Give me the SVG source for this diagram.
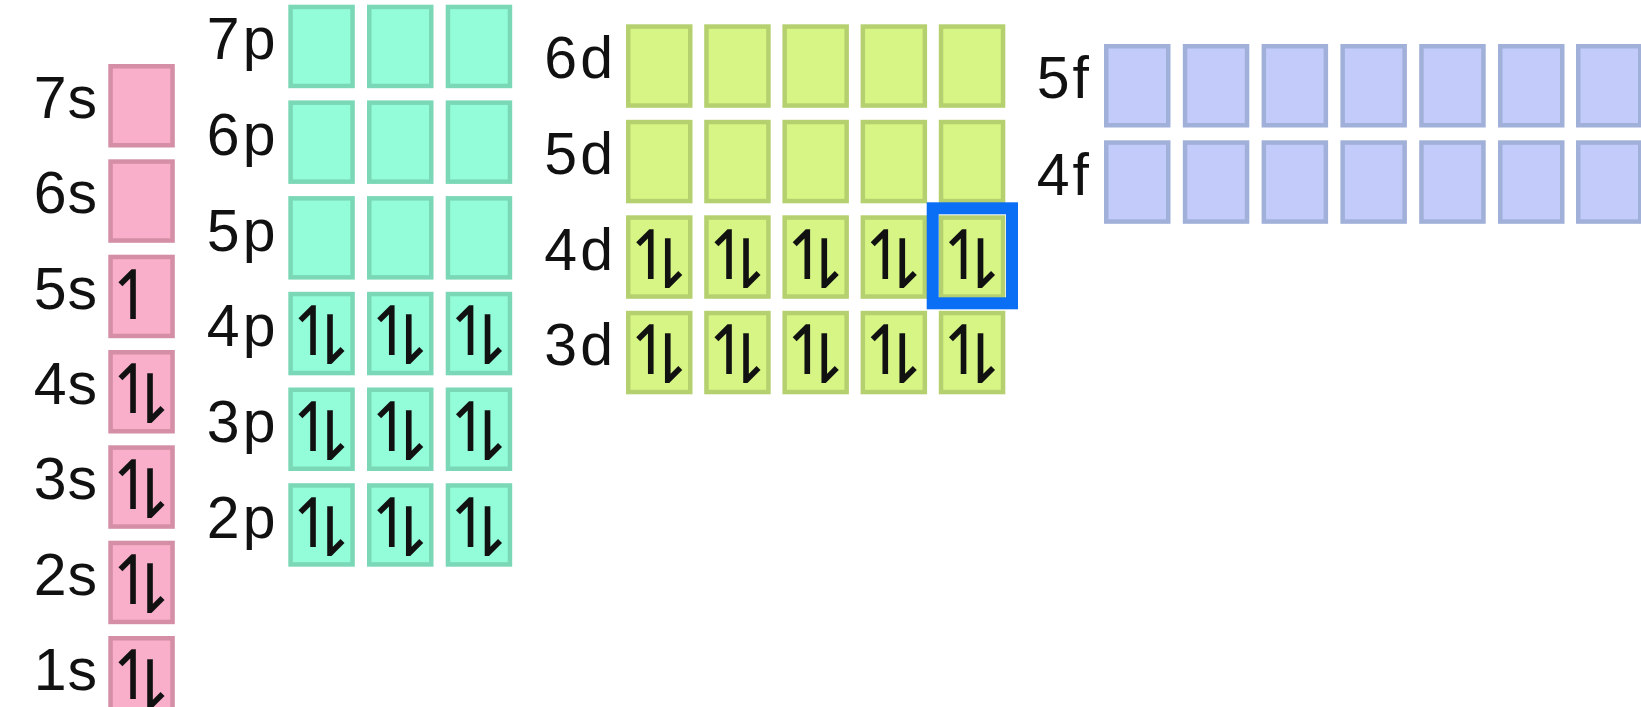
<svg xmlns="http://www.w3.org/2000/svg" width="1641" height="707" viewBox="0 0 1641 707">
<style>
.bg{fill:#ffffff}
.lbl{font-family:"Liberation Sans",Arial,sans-serif;font-size:59px;fill:#111111;text-anchor:end;letter-spacing:3px}
.s .lbl{letter-spacing:1px}
.e{font-family:"DejaVu Sans",sans-serif;font-size:68px;fill:#111111;text-anchor:middle}
.s rect.b{fill:#f9afc9;stroke:#d48ea6;stroke-width:4.5}
.p rect.b{fill:#93fdd9;stroke:#7ad8b6;stroke-width:4.5}
.d rect.b{fill:#d6f585;stroke:#b5d06f;stroke-width:4.5}
.f rect.b{fill:#c3cbfb;stroke:#a0b0d9;stroke-width:4.5}
.hl{fill:none;stroke:#0b6ff5;stroke-width:12}
</style>
<rect class="bg" x="0" y="0" width="1641" height="707"/>

<!-- s subshells -->
<g id="s-orbitals" class="s">
 <g id="orb-7s"><text class="lbl" x="98" y="118">7s</text><g id="7s-1" transform="translate(108.3,64)"><rect class="b" x="2.25" y="2.25" width="62" height="79"/></g></g>
 <g id="orb-6s"><text class="lbl" x="98" y="213.3">6s</text><g id="6s-1" transform="translate(108.3,159.3)"><rect class="b" x="2.25" y="2.25" width="62" height="79"/></g></g>
 <g id="orb-5s"><text class="lbl" x="98" y="308.7">5s</text><g id="5s-1" transform="translate(108.3,254.7)"><rect class="b" x="2.25" y="2.25" width="62" height="79"/><text class="e" x="25" y="64">↿</text></g></g>
 <g id="orb-4s"><text class="lbl" x="98" y="404">4s</text><g id="4s-1" transform="translate(108.3,350)"><rect class="b" x="2.25" y="2.25" width="62" height="79"/><text class="e" x="25" y="63.4">↿</text><text class="e" x="42" y="72.7">⇂</text></g></g>
 <g id="orb-3s"><text class="lbl" x="98" y="499.3">3s</text><g id="3s-1" transform="translate(108.3,445.3)"><rect class="b" x="2.25" y="2.25" width="62" height="79"/><text class="e" x="25" y="63.4">↿</text><text class="e" x="42" y="72.7">⇂</text></g></g>
 <g id="orb-2s"><text class="lbl" x="98" y="594.7">2s</text><g id="2s-1" transform="translate(108.3,540.7)"><rect class="b" x="2.25" y="2.25" width="62" height="79"/><text class="e" x="25" y="63.4">↿</text><text class="e" x="42" y="72.7">⇂</text></g></g>
 <g id="orb-1s"><text class="lbl" x="98" y="689.5">1s</text><g id="1s-1" transform="translate(108.3,636)"><rect class="b" x="2.25" y="2.25" width="62" height="79"/><text class="e" x="25" y="63.4">↿</text><text class="e" x="42" y="72.7">⇂</text></g></g>
</g>

<!-- p subshells -->
<g id="p-orbitals" class="p">
 <g id="orb-7p"><text class="lbl" x="278.5" y="59">7p</text>
  <g id="7p-1" transform="translate(288.3,4.7)"><rect class="b" x="2.25" y="2.25" width="62" height="79"/></g>
  <g id="7p-2" transform="translate(367,4.7)"><rect class="b" x="2.25" y="2.25" width="62" height="79"/></g>
  <g id="7p-3" transform="translate(445.7,4.7)"><rect class="b" x="2.25" y="2.25" width="62" height="79"/></g>
 </g>
 <g id="orb-6p"><text class="lbl" x="278.5" y="155">6p</text>
  <g id="6p-1" transform="translate(288.3,100.4)"><rect class="b" x="2.25" y="2.25" width="62" height="79"/></g>
  <g id="6p-2" transform="translate(367,100.4)"><rect class="b" x="2.25" y="2.25" width="62" height="79"/></g>
  <g id="6p-3" transform="translate(445.7,100.4)"><rect class="b" x="2.25" y="2.25" width="62" height="79"/></g>
 </g>
 <g id="orb-5p"><text class="lbl" x="278.5" y="250.6">5p</text>
  <g id="5p-1" transform="translate(288.3,196.1)"><rect class="b" x="2.25" y="2.25" width="62" height="79"/></g>
  <g id="5p-2" transform="translate(367,196.1)"><rect class="b" x="2.25" y="2.25" width="62" height="79"/></g>
  <g id="5p-3" transform="translate(445.7,196.1)"><rect class="b" x="2.25" y="2.25" width="62" height="79"/></g>
 </g>
 <g id="orb-4p"><text class="lbl" x="278.5" y="346.2">4p</text>
  <g id="4p-1" transform="translate(288.3,291.8)"><rect class="b" x="2.25" y="2.25" width="62" height="79"/><text class="e" x="25" y="63.4">↿</text><text class="e" x="42" y="72.7">⇂</text></g>
  <g id="4p-2" transform="translate(367,291.8)"><rect class="b" x="2.25" y="2.25" width="62" height="79"/><text class="e" x="25" y="63.4">↿</text><text class="e" x="42" y="72.7">⇂</text></g>
  <g id="4p-3" transform="translate(445.7,291.8)"><rect class="b" x="2.25" y="2.25" width="62" height="79"/><text class="e" x="25" y="63.4">↿</text><text class="e" x="42" y="72.7">⇂</text></g>
 </g>
 <g id="orb-3p"><text class="lbl" x="278.5" y="441.8">3p</text>
  <g id="3p-1" transform="translate(288.3,387.5)"><rect class="b" x="2.25" y="2.25" width="62" height="79"/><text class="e" x="25" y="63.4">↿</text><text class="e" x="42" y="72.7">⇂</text></g>
  <g id="3p-2" transform="translate(367,387.5)"><rect class="b" x="2.25" y="2.25" width="62" height="79"/><text class="e" x="25" y="63.4">↿</text><text class="e" x="42" y="72.7">⇂</text></g>
  <g id="3p-3" transform="translate(445.7,387.5)"><rect class="b" x="2.25" y="2.25" width="62" height="79"/><text class="e" x="25" y="63.4">↿</text><text class="e" x="42" y="72.7">⇂</text></g>
 </g>
 <g id="orb-2p"><text class="lbl" x="278.5" y="537.5">2p</text>
  <g id="2p-1" transform="translate(288.3,483.2)"><rect class="b" x="2.25" y="2.25" width="62" height="79"/><text class="e" x="25" y="63.4">↿</text><text class="e" x="42" y="72.7">⇂</text></g>
  <g id="2p-2" transform="translate(367,483.2)"><rect class="b" x="2.25" y="2.25" width="62" height="79"/><text class="e" x="25" y="63.4">↿</text><text class="e" x="42" y="72.7">⇂</text></g>
  <g id="2p-3" transform="translate(445.7,483.2)"><rect class="b" x="2.25" y="2.25" width="62" height="79"/><text class="e" x="25" y="63.4">↿</text><text class="e" x="42" y="72.7">⇂</text></g>
 </g>
</g>

<!-- d subshells -->
<g id="d-orbitals" class="d">
 <g id="orb-6d"><text class="lbl" x="616" y="78.4">6d</text>
  <g id="6d-1" transform="translate(626,24.3)"><rect class="b" x="2.25" y="2.25" width="62" height="79"/></g>
  <g id="6d-2" transform="translate(704.2,24.3)"><rect class="b" x="2.25" y="2.25" width="62" height="79"/></g>
  <g id="6d-3" transform="translate(782.4,24.3)"><rect class="b" x="2.25" y="2.25" width="62" height="79"/></g>
  <g id="6d-4" transform="translate(860.6,24.3)"><rect class="b" x="2.25" y="2.25" width="62" height="79"/></g>
  <g id="6d-5" transform="translate(938.8,24.3)"><rect class="b" x="2.25" y="2.25" width="62" height="79"/></g>
 </g>
 <g id="orb-5d"><text class="lbl" x="616" y="174">5d</text>
  <g id="5d-1" transform="translate(626,119.8)"><rect class="b" x="2.25" y="2.25" width="62" height="79"/></g>
  <g id="5d-2" transform="translate(704.2,119.8)"><rect class="b" x="2.25" y="2.25" width="62" height="79"/></g>
  <g id="5d-3" transform="translate(782.4,119.8)"><rect class="b" x="2.25" y="2.25" width="62" height="79"/></g>
  <g id="5d-4" transform="translate(860.6,119.8)"><rect class="b" x="2.25" y="2.25" width="62" height="79"/></g>
  <g id="5d-5" transform="translate(938.8,119.8)"><rect class="b" x="2.25" y="2.25" width="62" height="79"/></g>
 </g>
 <g id="orb-4d"><text class="lbl" x="616" y="269.5">4d</text>
  <g id="4d-1" transform="translate(626,215.3)"><rect class="b" x="2.25" y="2.25" width="62" height="79"/><text class="e" x="25" y="63.4">↿</text><text class="e" x="42" y="72.7">⇂</text></g>
  <g id="4d-2" transform="translate(704.2,215.3)"><rect class="b" x="2.25" y="2.25" width="62" height="79"/><text class="e" x="25" y="63.4">↿</text><text class="e" x="42" y="72.7">⇂</text></g>
  <g id="4d-3" transform="translate(782.4,215.3)"><rect class="b" x="2.25" y="2.25" width="62" height="79"/><text class="e" x="25" y="63.4">↿</text><text class="e" x="42" y="72.7">⇂</text></g>
  <g id="4d-4" transform="translate(860.6,215.3)"><rect class="b" x="2.25" y="2.25" width="62" height="79"/><text class="e" x="25" y="63.4">↿</text><text class="e" x="42" y="72.7">⇂</text></g>
  <g id="4d-5" transform="translate(938.8,215.3)"><rect class="b" x="2.25" y="2.25" width="62" height="79"/><text class="e" x="25" y="63.4">↿</text><text class="e" x="42" y="72.7">⇂</text></g>
 </g>
 <g id="orb-3d"><text class="lbl" x="616" y="365">3d</text>
  <g id="3d-1" transform="translate(626,310.8)"><rect class="b" x="2.25" y="2.25" width="62" height="79"/><text class="e" x="25" y="63.4">↿</text><text class="e" x="42" y="72.7">⇂</text></g>
  <g id="3d-2" transform="translate(704.2,310.8)"><rect class="b" x="2.25" y="2.25" width="62" height="79"/><text class="e" x="25" y="63.4">↿</text><text class="e" x="42" y="72.7">⇂</text></g>
  <g id="3d-3" transform="translate(782.4,310.8)"><rect class="b" x="2.25" y="2.25" width="62" height="79"/><text class="e" x="25" y="63.4">↿</text><text class="e" x="42" y="72.7">⇂</text></g>
  <g id="3d-4" transform="translate(860.6,310.8)"><rect class="b" x="2.25" y="2.25" width="62" height="79"/><text class="e" x="25" y="63.4">↿</text><text class="e" x="42" y="72.7">⇂</text></g>
  <g id="3d-5" transform="translate(938.8,310.8)"><rect class="b" x="2.25" y="2.25" width="62" height="79"/><text class="e" x="25" y="63.4">↿</text><text class="e" x="42" y="72.7">⇂</text></g>
 </g>
</g>

<!-- f subshells -->
<g id="f-orbitals" class="f">
 <g id="orb-5f"><text class="lbl" x="1092" y="98.3">5f</text>
  <g id="5f-1" transform="translate(1104,44)"><rect class="b" x="2.25" y="2.25" width="62" height="79"/></g>
  <g id="5f-2" transform="translate(1182.8,44)"><rect class="b" x="2.25" y="2.25" width="62" height="79"/></g>
  <g id="5f-3" transform="translate(1261.6,44)"><rect class="b" x="2.25" y="2.25" width="62" height="79"/></g>
  <g id="5f-4" transform="translate(1340.4,44)"><rect class="b" x="2.25" y="2.25" width="62" height="79"/></g>
  <g id="5f-5" transform="translate(1419.2,44)"><rect class="b" x="2.25" y="2.25" width="62" height="79"/></g>
  <g id="5f-6" transform="translate(1498,44)"><rect class="b" x="2.25" y="2.25" width="62" height="79"/></g>
  <g id="5f-7" transform="translate(1576,44)"><rect class="b" x="2.25" y="2.25" width="62" height="79"/></g>
 </g>
 <g id="orb-4f"><text class="lbl" x="1092" y="194.6">4f</text>
  <g id="4f-1" transform="translate(1104,140.3)"><rect class="b" x="2.25" y="2.25" width="62" height="79"/></g>
  <g id="4f-2" transform="translate(1182.8,140.3)"><rect class="b" x="2.25" y="2.25" width="62" height="79"/></g>
  <g id="4f-3" transform="translate(1261.6,140.3)"><rect class="b" x="2.25" y="2.25" width="62" height="79"/></g>
  <g id="4f-4" transform="translate(1340.4,140.3)"><rect class="b" x="2.25" y="2.25" width="62" height="79"/></g>
  <g id="4f-5" transform="translate(1419.2,140.3)"><rect class="b" x="2.25" y="2.25" width="62" height="79"/></g>
  <g id="4f-6" transform="translate(1498,140.3)"><rect class="b" x="2.25" y="2.25" width="62" height="79"/></g>
  <g id="4f-7" transform="translate(1576,140.3)"><rect class="b" x="2.25" y="2.25" width="62" height="79"/></g>
 </g>
</g>

<!-- highlight of last filled orbital -->
<g id="highlight">
 <rect class="hl" x="932.7" y="208.3" width="79.3" height="95"/>
</g>
</svg>
